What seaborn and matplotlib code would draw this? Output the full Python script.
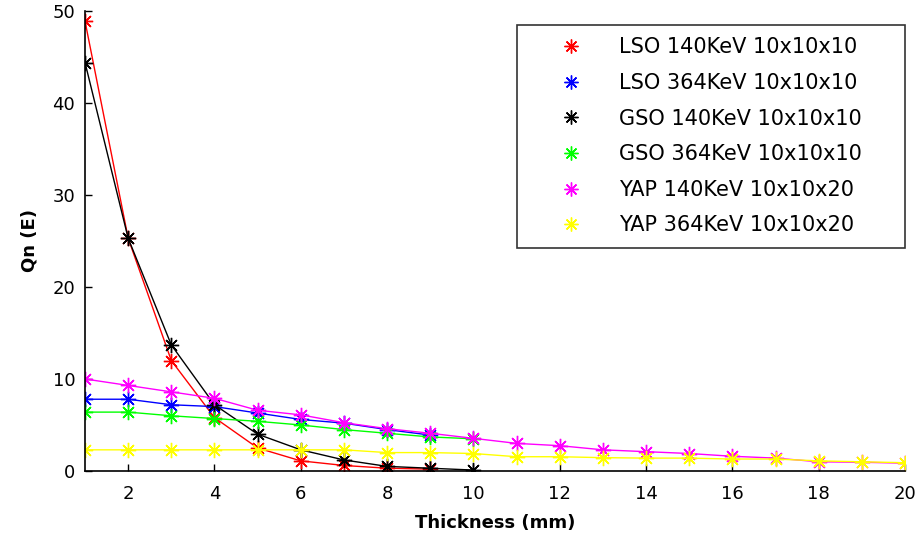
import numpy as np
import pandas as pd
import matplotlib
matplotlib.use("Agg")
import matplotlib.pyplot as plt
from matplotlib.lines import Line2D
import seaborn as sns

# valores
esp_lso = [1, 2, 3, 4, 5, 6, 7, 8, 9]
lso_140 = [48.9, 25.3, 12.0, 5.8, 2.5, 1.1, 0.6, 0.3, 0.2]
lso_364 = [7.8, 7.8, 7.2, 7.0, 6.3, 5.6, 5.2, 4.5, 3.9]

esp_gso = [1, 2, 3, 4, 5, 6, 7, 8, 9, 10]
gso_140 = [44.4, 25.3, 13.7, 7.2, 4.0, 2.3, 1.2, 0.5, 0.3, 0.1]
gso_364 = [6.4, 6.4, 6.0, 5.7, 5.4, 5.0, 4.5, 4.1, 3.7, 3.5]

esp_yap = list(range(1, 21))
yap_140 = [10.0, 9.3, 8.6, 7.9, 6.6, 6.1, 5.25, 4.6, 4.1, 3.55,
           3.0, 2.75, 2.3, 2.1, 1.9, 1.6, 1.4, 1.0, 0.95, 0.85]
yap_364 = [2.3, 2.3, 2.3, 2.3, 2.3, 2.3, 2.3, 2.0, 2.0, 1.9,
           1.55, 1.55, 1.45, 1.4, 1.4, 1.3, 1.3, 1.1, 1.0, 0.9]

nomes = ["LSO 140KeV 10x10x10", "LSO 364KeV 10x10x10",
         "GSO 140KeV 10x10x10", "GSO 364KeV 10x10x10",
         "YAP 140KeV 10x10x20", "YAP 364KeV 10x10x20"]
cores = ["#ff0000", "#0000ff", "#000000", "#00ff00", "#ff00ff", "#ffff00"]

series = [(esp_lso, lso_140), (esp_lso, lso_364), (esp_gso, gso_140),
          (esp_gso, gso_364), (esp_yap, yap_140), (esp_yap, yap_364)]

frames = []
for nome, (x, y) in zip(nomes, series):
    frames.append(pd.DataFrame({"espessura": x, "qn": y, "serie": nome}))
dados = pd.concat(frames, ignore_index=True)

sns.set_style("ticks")
plt.rcParams["font.family"] = ["DejaVu Sans"]
plt.rcParams["text.color"] = "black"
plt.rcParams["axes.labelcolor"] = "black"

asterisco = (8, 2, 0)

fig = plt.figure(figsize=(9.21, 5.45), dpi=100)
ax = fig.add_axes([0.0923, 0.1358, 0.8903, 0.844])

sns.lineplot(data=dados, x="espessura", y="qn", hue="serie", hue_order=nomes,
             palette=dict(zip(nomes, cores)), marker=asterisco, markersize=11,
             markeredgewidth=1.0, linewidth=1.0, legend=False, ax=ax)
# seaborn pinta a borda do marcador de branco; o asterisco so tem borda
for linha in ax.lines:
    linha.set_markeredgecolor(linha.get_color())

ax.set_xlim(1, 20)
ax.set_ylim(0, 50)
ax.set_xticks(range(2, 21, 2))
ax.set_yticks(range(0, 51, 10))
ax.tick_params(direction="in", length=5, width=1, labelsize=13, colors="black")
ax.tick_params(axis="x", pad=10)
ax.tick_params(axis="y", pad=7)
for lado in ["top", "right"]:
    ax.spines[lado].set_visible(False)
for lado in ["left", "bottom"]:
    ax.spines[lado].set_color("black")
    ax.spines[lado].set_linewidth(1.2)

ax.set_xlabel("Thickness (mm)", fontsize=13, fontweight="bold", labelpad=8)
ax.set_ylabel("Qn (E)", fontsize=13, fontweight="bold", labelpad=10)

handles = [Line2D([], [], linestyle="none", marker=asterisco, markersize=10,
                  markeredgewidth=1.0, color=c) for c in cores]
leg = ax.legend(handles, nomes, loc="upper left",
                bbox_to_anchor=(0.527, 0.485, 0.473, 0.485), mode="expand",
                borderaxespad=0, fontsize=15, frameon=True, fancybox=False,
                labelspacing=0.75, handletextpad=0.3, borderpad=0.6,
                handlelength=4.0)
leg.get_frame().set_edgecolor("black")
leg.get_frame().set_linewidth(1.2)

fig.savefig("out.png", dpi=100)
